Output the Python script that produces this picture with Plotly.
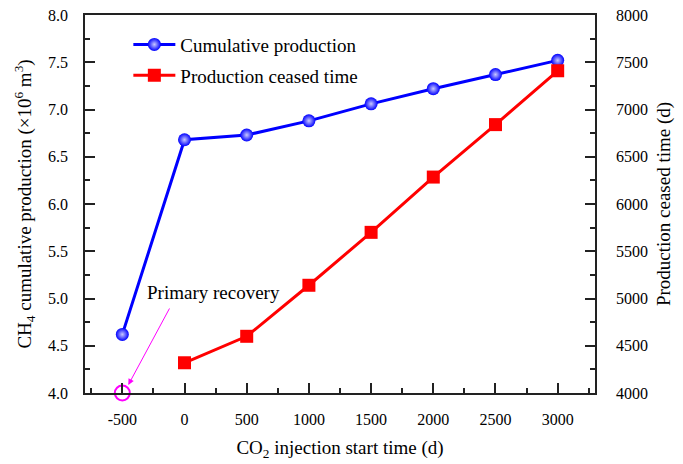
import plotly.graph_objects as go

# CO2 injection start time (d); -500 denotes primary recovery
start_time = [-500, 0, 500, 1000, 1500, 2000, 2500, 3000]
cum_production = [4.62, 6.68, 6.73, 6.88, 7.06, 7.22, 7.37, 7.52]

ceased_start = [0, 500, 1000, 1500, 2000, 2500, 3000]
ceased_time = [4320, 4600, 5140, 5700, 6285, 6840, 7410]

x_ticks = [-500, 0, 500, 1000, 1500, 2000, 2500, 3000]
x_ticktext = ["-500", "0", "500", "1000", "1500", "2000", "2500", "3000"]

font_family = "Liberation Serif"

fig = go.Figure()

fig.add_trace(go.Scatter(
    x=start_time, y=cum_production, name="Cumulative production",
    mode="lines+markers", legendgroup="a",
    line=dict(color="#0000ff", width=3),
    marker=dict(symbol="circle", size=13, color="#0000ff",
                gradient=dict(type="radial", color="#c8c8ff")),
    yaxis="y",
))

fig.add_trace(go.Scatter(
    x=ceased_start, y=ceased_time, name="Production ceased time",
    mode="lines+markers", legendgroup="b",
    line=dict(color="#ff0000", width=3),
    marker=dict(symbol="square", size=13, color="#ff0000"),
    yaxis="y2",
))

# Open circle marking the primary-recovery case on the x axis
fig.add_trace(go.Scatter(
    x=[start_time[0]], y=[4.0], mode="markers", showlegend=False,
    marker=dict(symbol="circle-open", size=15, color="#ff00ff",
                line=dict(width=2, color="#ff00ff")),
    cliponaxis=False, yaxis="y",
))

fig.add_annotation(
    x=-452, y=4.085, xref="x", yref="y", text="",
    showarrow=True, axref="pixel", ayref="pixel", ax=42, ay=-78,
    arrowcolor="#ff00ff", arrowwidth=1, arrowhead=2, arrowsize=1.2,
)
fig.add_annotation(
    x=234, y=5.06, xref="x", yref="y", text="Primary recovery",
    showarrow=False, font=dict(family=font_family, size=19, color="black"),
)

axis_common = dict(
    showline=True, linecolor="#222222", linewidth=1.5,
    ticks="inside", ticklen=10, tickwidth=1.5, tickcolor="#222222",
    showgrid=False, zeroline=False, automargin=False,
    tickfont=dict(family=font_family, size=16, color="black"),
)

fig.update_layout(
    width=683, height=464,
    margin=dict(l=85, r=88, t=15, b=71),
    paper_bgcolor="white", plot_bgcolor="white",
    font=dict(family=font_family, color="black"),
    xaxis=dict(
        range=[-800, 3300], tickvals=x_ticks, ticktext=x_ticktext,
        minor=dict(dtick=250, ticks="inside", ticklen=5, tickcolor="#222222"),
        mirror=True, ticklabelstandoff=11,
        title=dict(text="CO<sub>2</sub> injection start time (d)",
                   font=dict(family=font_family, size=19), standoff=14),
        **axis_common,
    ),
    yaxis=dict(
        range=[4.0, 8.0], dtick=0.5, tickformat=".1f", ticklabelstandoff=12,
        minor=dict(dtick=0.25, ticks="inside", ticklen=5, tickcolor="#222222"),
        title=dict(text="CH<sub>4</sub> cumulative production (×10<sup>6</sup> m<sup>3</sup>)",
                   font=dict(family=font_family, size=19), standoff=11),
        **axis_common,
    ),
    yaxis2=dict(
        range=[4000, 8000], dtick=500, overlaying="y", side="right",
        ticklabelstandoff=16,
        minor=dict(dtick=250, ticks="inside", ticklen=5, tickcolor="#222222"),
        title=dict(text="Production ceased time (d)",
                   font=dict(family=font_family, size=19), standoff=10),
        **axis_common,
    ),
    legend=dict(
        x=0.085, y=0.972, xanchor="left", yanchor="top",
        bgcolor="rgba(0,0,0,0)", font=dict(family=font_family, size=19),
        tracegroupgap=3, itemwidth=42,
    ),
)

fig.write_html("out.html")
